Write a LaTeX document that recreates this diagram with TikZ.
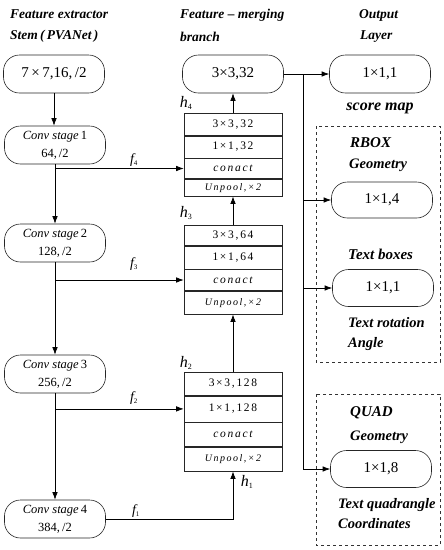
\documentclass[tikz,border=0pt]{standalone}
\usepackage{fontspec}
\setmainfont{Liberation Serif}
\newfontfamily\spc[LetterSpace=15]{Liberation Serif}
\usetikzlibrary{arrows.meta}
\begin{document}
\begin{tikzpicture}[x=1pt,y=-1pt,
 rbox/.style={draw=black!85, line width=0.6pt, rounded corners=16pt, minimum width=101pt, minimum height=38pt, inner sep=0pt, font=\fontsize{15}{17}\selectfont, align=center},
 cbox/.style={rbox, font=\fontsize{12.5}{18}\selectfont},
 row/.style={draw=black!85, line width=0.6pt, minimum width=98pt, inner sep=0pt, anchor=north, font=\fontsize{11.5}{13}\spc},
 crow/.style={row, font=\fontsize{11.5}{13}\spc\itshape},
 urow/.style={row, font=\fontsize{10}{12}\spc\itshape},
 hdr/.style={anchor=west, inner sep=0pt, font=\fontsize{13.5}{15}\selectfont\bfseries\itshape},
 ohdr/.style={hdr, font=\fontsize{14.5}{16}\selectfont\bfseries\itshape},
 bhdr/.style={hdr, font=\fontsize{15}{17}\selectfont\bfseries\itshape},
 lbl/.style={inner sep=0pt, font=\fontsize{16}{18}\selectfont\itshape},
 flbl/.style={inner sep=0pt, font=\fontsize{14}{16}\selectfont\itshape},
 arr/.style={-{Latex[length=7.5pt,width=5.5pt]}, line width=0.7pt},
 dbox/.style={draw=black!80, dashed, line width=0.7pt}
]
\useasboundingbox (0,0) rectangle (444,550);

% headers
\node[hdr] (hA) at (10,14) {Feature extractor};
\node[hdr] (hB) at (10,36) {Stem\,(\,PVANet\,)};
\node[hdr] (hC) at (180,15) {Feature -- merging};
\node[hdr] (hD) at (180,37) {branch};
\node[hdr] (hE) at (359,15) {Output};
\node[hdr] (hF) at (360,37) {Layer};

% left column
\node[rbox] (stem) at (54,74) {7\,×\,7,16,\,/2};
\node[cbox] (c1) at (55,145) {\textit{Conv stage}\,1\\64,\,/2};
\node[cbox] (c2) at (55,243) {\textit{Conv stage}\,2\\128,\,/2};
\node[cbox] (c3) at (55,374) {\textit{Conv stage}\,3\\256,\,/2};
\node[cbox] (c4) at (55,519) {\textit{Conv stage}\,4\\384,\,/2};

% merging branch
\node[rbox] (top) at (233,74) {3×3,32};

\node[row, minimum height=22pt] (b4a) at (233,113) {3×3,32};
\node[row, minimum height=22pt] (b4b) at (b4a.south) {1×1,32};
\node[crow, minimum height=20pt] (b4c) at (b4b.south) {conact};
\node[urow, minimum height=17pt] (b4d) at (b4c.south) {Unpool,×2};

\node[row, minimum height=20pt] (b3a) at (233,225) {3×3,64};
\node[row, minimum height=23pt] (b3b) at (b3a.south) {1×1,64};
\node[crow, minimum height=21pt] (b3c) at (b3b.south) {conact};
\node[urow, minimum height=23pt] (b3d) at (b3c.south) {Unpool,×2};

\node[row, minimum height=23pt] (b2a) at (233,372) {3×3,128};
\node[row, minimum height=26pt] (b2b) at (b2a.south) {1×1,128};
\node[crow, minimum height=24pt] (b2c) at (b2b.south) {conact};
\node[urow, minimum height=24pt] (b2d) at (b2c.south) {Unpool,×2};

% output layer
\node[rbox] (o1) at (380,74) {1×1,1};
\node[rbox, minimum height=36pt] (o2) at (382,200) {1×1,4};
\node[rbox, minimum height=37pt] (o3) at (383,288) {1×1,1};
\node[rbox, minimum height=37pt] (o4) at (381,469) {1×1,8};

\draw[dbox] (316,126) rectangle (440,362);
\draw[dbox] (316,394) rectangle (440,545);

\node[inner sep=0pt, font=\fontsize{16}{18}\selectfont\bfseries\itshape] (sm) at (380,108) {score map};
\node[bhdr] (t1) at (350,143) {RBOX};
\node[ohdr] (t2) at (349,165) {Geometry};
\node[bhdr] (t3) at (348,254) {Text boxes};
\node[ohdr] (t4) at (348,323) {Text rotation};
\node[ohdr] (t5) at (348,344) {Angle};
\node[bhdr] (t6) at (350,413) {QUAD};
\node[ohdr] (t7) at (350,437) {Geometry};
\node[ohdr] (t8) at (338,505) {Text quadrangle};
\node[ohdr] (t9) at (338,524) {Coordinates};

% labels h, f
\node[lbl] (h4) at (186,103) {h\textsubscript{\upshape\fontsize{8}{9}\selectfont 4}};
\node[lbl] (h3) at (186,213) {h\textsubscript{\upshape\fontsize{8}{9}\selectfont 3}};
\node[lbl] (h2) at (186,363) {h\textsubscript{\upshape\fontsize{8}{9}\selectfont 2}};
\node[lbl] (h1) at (247,482) {h\textsubscript{\upshape\fontsize{8}{9}\selectfont 1}};
\node[flbl] (f4) at (134,160) {f\textsubscript{\upshape\fontsize{7}{8}\selectfont 4}};
\node[flbl] (f3) at (134,264) {f\textsubscript{\upshape\fontsize{7}{8}\selectfont 3}};
\node[flbl] (f2) at (134,398) {f\textsubscript{\upshape\fontsize{7}{8}\selectfont 2}};
\node[flbl] (f1) at (136,511) {f\textsubscript{\upshape\fontsize{7}{8}\selectfont 1}};

% connectors left column
\draw[arr] (stem.south) -- (stem.south |- c1.north);
\draw[arr] (c1.south) -- (c2.north);
\draw[arr] (c2.south) -- (c3.north);
\draw[arr] (c3.south) -- (c4.north);
\draw[arr] (c1.south |- b4c.west) -- (b4c.west);
\draw[arr] (c2.south |- b3c.west) -- (b3c.west);
\draw[arr] (c3.south |- b2b.west) -- (b2b.west);
\draw[arr] (c4.east) -| (b2d.south);

% merging branch arrows
\draw[arr] (b2a.north) -- (b3d.south);
\draw[arr] (b3a.north) -- (b4d.south);
\draw[arr] (b4a.north) -- (top.south);

% output arrows
\coordinate (j) at (303,74);
\draw[arr] (top.east) -- (o1.west);
\draw[arr] (j) |- (o4.west);
\draw[arr] (j |- o2.west) -- (o2.west);
\draw[arr] (j |- o3.west) -- (o3.west);
\end{tikzpicture}
\end{document}
